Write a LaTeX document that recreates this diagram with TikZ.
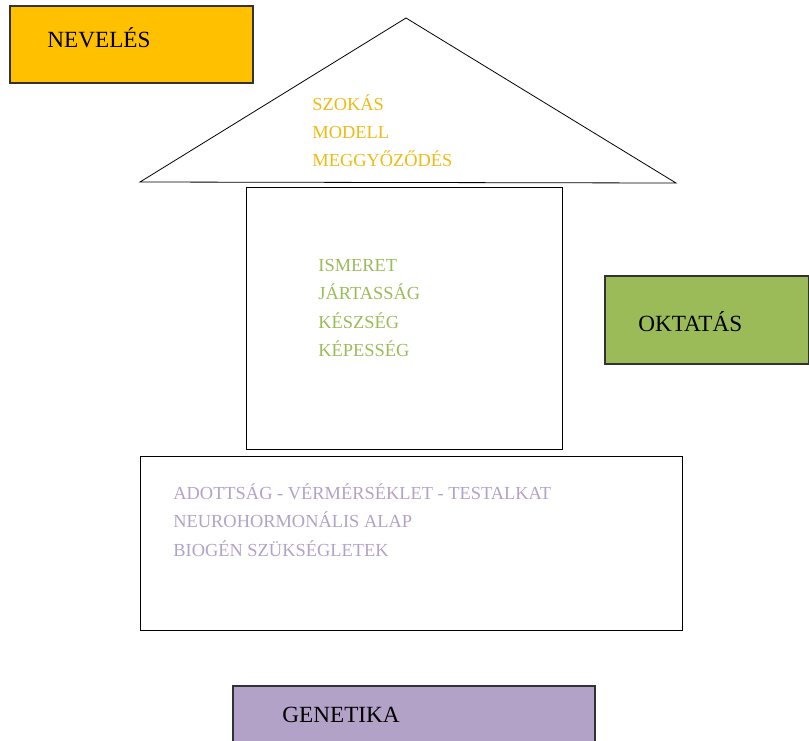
\documentclass[tikz,border=0pt]{standalone}
\usepackage{fontspec}
\setmainfont{Liberation Serif}
\usepackage{tikz}
\usetikzlibrary{positioning}
\definecolor{nevyellow}{RGB}{255, 192, 0}
\definecolor{nevtext}{RGB}{238, 186, 20}
\definecolor{oktgreen}{RGB}{155, 187, 89}
\definecolor{genpurple}{RGB}{179, 162, 199}
\definecolor{boxborder}{RGB}{50, 50, 50}

\tikzset{
    labelbox/.style={draw=boxborder, line width=0.6pt, inner sep=0pt},
    framebox/.style={draw=black, line width=0.4pt, inner sep=0pt},
    boxtitle/.style={anchor=west, inner sep=0pt, font=\fontsize{11.6}{13}\selectfont},
    itemlist/.style={anchor=north west, inner sep=0pt, align=left, font=\fontsize{9.2}{14.2}\selectfont}
}

\begin{document}
\begin{tikzpicture}[x=0.5pt, y=-0.5pt]
    \useasboundingbox (0,0) rectangle (809,740);

    % the house
    \coordinate (apex) at (406,18);
    \coordinate (eaveleft) at (140,182);
    \coordinate (eaveright) at (676,183);
    \draw[line width=0.4pt] (eaveleft) -- (apex) -- (eaveright) -- cycle;
    \node[framebox, minimum width=158pt, minimum height=131pt] (walls) at (404,318) {};
    \node[framebox, minimum width=271pt, minimum height=87pt] (base) at (411,543) {};

    % side labels
    \node[labelbox, fill=nevyellow, minimum width=121.5pt, minimum height=38.5pt] (neveles) at (131.5,44.5) {};
    \node[boxtitle] (nevelestitle) at (47,38) {NEVELÉS};
    \node[labelbox, fill=oktgreen, minimum width=102pt, minimum height=44pt] (oktatas) at (707,320) {};
    \node[boxtitle] (oktatastitle) at (638,322) {OKTATÁS};
    \node[labelbox, fill=genpurple, minimum width=181pt, minimum height=32pt] (genetika) at (414,718) {};
    \node[boxtitle] (genetikatitle) at (282,715) {GENETIKA};

    % contents
    \node[itemlist, text=nevtext] (rooflist) at (312,94) {SZOKÁS\\MODELL\\MEGGYŐZŐDÉS};
    \node[itemlist, text=oktgreen] (walllist) at (318,259) {ISMERET\\JÁRTASSÁG\\KÉSZSÉG\\KÉPESSÉG};
    \node[itemlist, text=genpurple] (baselist) at (173,483) {ADOTTSÁG - VÉRMÉRSÉKLET - TESTALKAT\\NEUROHORMONÁLIS ALAP\\BIOGÉN SZÜKSÉGLETEK};
\end{tikzpicture}
\end{document}
